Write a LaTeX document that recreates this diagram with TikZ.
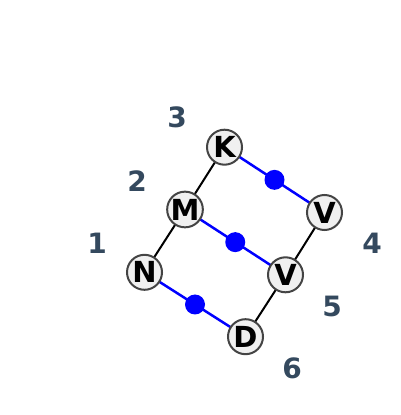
\documentclass[tikz,border=0pt]{standalone}
\usetikzlibrary{calc}
\usepackage{fontspec}
\setmainfont{DejaVu Sans}
\definecolor{lblcol}{HTML}{34495E}
\definecolor{nodefill}{HTML}{F0F0F0}
\definecolor{nodeline}{HTML}{444444}
\begin{document}
\begin{tikzpicture}[x=1pt,y=1pt,
  vtx/.style={circle,draw=nodeline,fill=nodefill,line width=2pt,minimum size=35pt,inner sep=0pt,font=\fontsize{29}{29}\selectfont\bfseries},
  num/.style={text=lblcol,font=\fontsize{28}{28}\selectfont\bfseries},
  blk/.style={draw=black,line width=2pt},
  blu/.style={draw=blue,line width=2.5pt},
  dot/.style={circle,fill=blue,minimum size=20pt,inner sep=0pt}]
\useasboundingbox (0,0) rectangle (400,415);
\coordinate (pK) at (224.5,267.8);
\coordinate (pM) at (185,205.5);
\coordinate (pN) at (144.5,142.7);
\coordinate (pV1) at (324.5,202.5);
\coordinate (pV2) at (285.5,140.2);
\coordinate (pD) at (245.5,78.3);
\draw[blk] (pK) -- (pM) -- (pN);
\draw[blk] (pV1) -- (pV2) -- (pD);
\draw[blu] (pK) -- (pV1);
\draw[blu] (pM) -- (pV2);
\draw[blu] (pN) -- (pD);
\node[dot] (d1) at ($(pK)!0.5!(pV1)$) {};
\node[dot] (d2) at ($(pM)!0.5!(pV2)$) {};
\node[dot] (d3) at ($(pN)!0.5!(pD)$) {};
\node[vtx] (K) at (pK) {K};
\node[vtx] (M) at (pM) {M};
\node[vtx] (N) at (pN) {N};
\node[vtx] (V1) at (pV1) {V};
\node[vtx] (V2) at (pV2) {V};
\node[vtx] (D) at (pD) {D};
\node[num] (l3) at (177,298) {3};
\node[num] (l2) at (137,234) {2};
\node[num] (l1) at (97,172) {1};
\node[num] (l4) at (372,172) {4};
\node[num] (l5) at (332,109) {5};
\node[num] (l6) at (292,47) {6};
\end{tikzpicture}
\end{document}
